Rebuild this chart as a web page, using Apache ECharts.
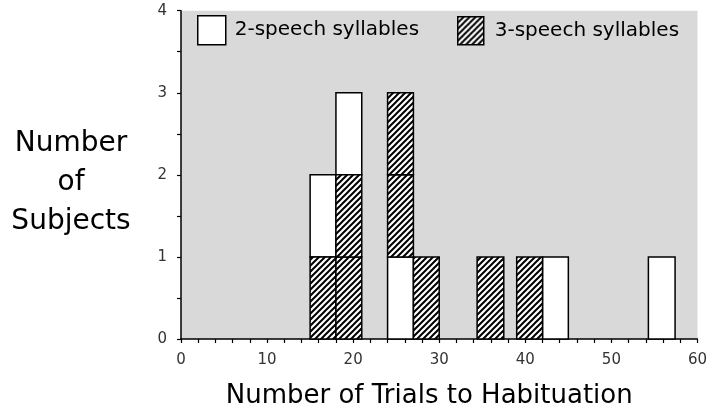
<!DOCTYPE html>
<html>
<head>
<meta charset="utf-8">
<script src="https://cdn.jsdelivr.net/npm/echarts@6/dist/echarts.min.js"></script>
<style>
html, body { margin: 0; padding: 0; background: #fff; }
#main { width: 710px; height: 414px; }
</style>
</head>
<body>
<div id="main"></div>
<script>
// bin edges (trials to habituation) for every bar
var binLeft  = [15, 18, 24, 27, 34.4, 39, 42, 54.3];
var binRight = [18, 21, 27, 30, 37.5, 42, 45, 57.4];
// one box per subject, listed from the bottom of each bar up: 2 = 2-speech, 3 = 3-speech
var boxesFromBottom = [[3, 2], [3, 3, 2], [2, 3, 3], [3], [3], [3], [2], [2]];
var seriesNames = ['2-speech syllables', '3-speech syllables'];
var xRange = [0, 60];
var yRange = [0, 4];

// diagonal hatch tile
function makeHatch() {
    var s = 6;
    var c = document.createElement('canvas');
    c.width = s; c.height = s;
    var ctx = c.getContext('2d');
    ctx.fillStyle = '#fff';
    ctx.fillRect(0, 0, s, s);
    ctx.strokeStyle = '#000';
    ctx.lineWidth = 2;
    ctx.beginPath();
    ctx.moveTo(0, s); ctx.lineTo(s, 0);
    ctx.moveTo(-1, 1); ctx.lineTo(1, -1);
    ctx.moveTo(s - 1, s + 1); ctx.lineTo(s + 1, s - 1);
    ctx.stroke();
    return c;
}
var hatch = { image: makeHatch(), repeat: 'repeat' };

function cellsOf(kind) {
    var out = [];
    boxesFromBottom.forEach(function (stack, i) {
        stack.forEach(function (k, level) {
            if (k === kind) out.push([binLeft[i], binRight[i], level, level + 1]);
        });
    });
    return out;
}

function renderBox(params, api) {
    var topLeft = api.coord([api.value(0), api.value(3)]);
    var bottomRight = api.coord([api.value(1), api.value(2)]);
    return {
        type: 'rect',
        shape: {
            x: topLeft[0], y: topLeft[1],
            width: bottomRight[0] - topLeft[0],
            height: bottomRight[1] - topLeft[1]
        },
        style: { fill: api.visual('color'), stroke: '#000', lineWidth: 1.5 }
    };
}

var font = 'DejaVu Sans';
var myChart = echarts.init(document.getElementById('main'));
var legendText = { fontFamily: font, fontSize: 20, color: '#000' };

var option = {
    animation: false,
    grid: {
        left: 181, right: 11, top: 10.7, bottom: 74.7,
        show: true, backgroundColor: '#d9d9d9', borderWidth: 0
    },
    legend: [{
        data: [seriesNames[0]],
        left: 197, top: 15, padding: 0,
        itemWidth: 28, itemHeight: 29, icon: 'rect',
        selectedMode: false,
        itemStyle: { borderColor: '#000', borderWidth: 1.5 },
        textStyle: Object.assign({ padding: [0, 0, 0, 4] }, legendText)
    }, {
        data: [seriesNames[1]],
        left: 457, top: 16, padding: 0,
        itemWidth: 26, itemHeight: 28, icon: 'rect',
        selectedMode: false,
        itemStyle: { borderColor: '#000', borderWidth: 1.5 },
        textStyle: Object.assign({ padding: [0, 0, 0, 6] }, legendText)
    }],
    xAxis: {
        type: 'value',
        min: xRange[0], max: xRange[1], interval: 10,
        name: 'Number of Trials to Habituation',
        nameLocation: 'middle', nameGap: 44,
        nameTextStyle: { fontFamily: font, fontSize: 26, color: '#000', padding: [0, 20, 0, 0] },
        axisLine: { lineStyle: { color: '#000', width: 1.5 } },
        axisTick: { show: true, length: 4, lineStyle: { color: '#000', width: 1.2 } },
        minorTick: { show: true, splitNumber: 5, length: 4, lineStyle: { color: '#000', width: 1.2 } },
        axisLabel: { margin: 14, fontFamily: font, fontSize: 15, color: '#333' },
        splitLine: { show: false }
    },
    yAxis: {
        type: 'value',
        min: yRange[0], max: yRange[1], interval: 1,
        axisLine: { show: true, lineStyle: { color: '#000', width: 1.5 } },
        axisTick: { show: true, length: 4, lineStyle: { color: '#000', width: 1.2 } },
        minorTick: { show: true, splitNumber: 2, length: 4, lineStyle: { color: '#000', width: 1.2 } },
        axisLabel: { margin: 14, fontFamily: font, fontSize: 15, color: '#333' },
        splitLine: { show: false }
    },
    graphic: [{
        type: 'text',
        x: 71, y: 183,
        style: {
            text: 'Number\nof\nSubjects',
            font: '28px "DejaVu Sans"',
            fill: '#000',
            align: 'center',
            verticalAlign: 'middle',
            lineHeight: 39
        }
    }],
    series: [{
        name: seriesNames[0],
        type: 'custom',
        renderItem: renderBox,
        encode: { x: [0, 1], y: [2, 3] },
        itemStyle: { color: '#fff', borderColor: '#000', borderWidth: 1.5 },
        data: cellsOf(2)
    }, {
        name: seriesNames[1],
        type: 'custom',
        renderItem: renderBox,
        encode: { x: [0, 1], y: [2, 3] },
        itemStyle: { color: hatch, borderColor: '#000', borderWidth: 1.5 },
        data: cellsOf(3)
    }]
};
myChart.setOption(option);
</script>
</body>
</html>
